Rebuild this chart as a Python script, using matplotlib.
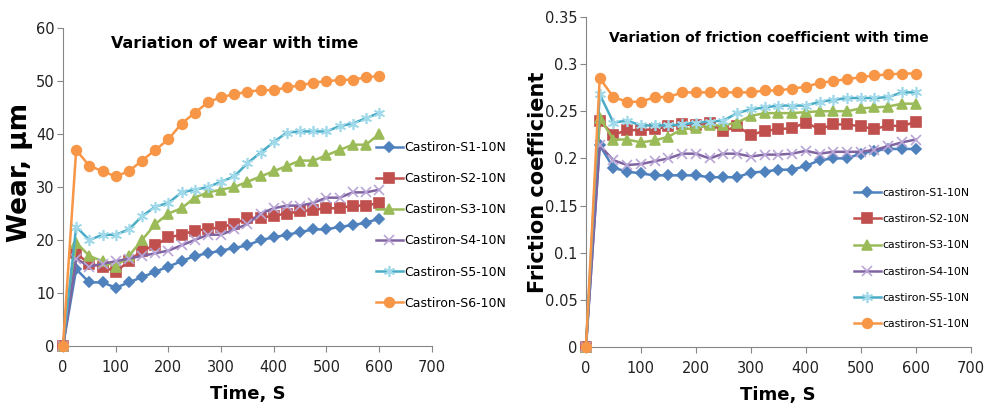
import matplotlib
matplotlib.use("Agg")
import matplotlib.pyplot as plt

# time axis, s
time = [0, 25, 50, 75, 100, 125, 150, 175, 200, 225, 250, 275, 300,
        325, 350, 375, 400, 425, 450, 475, 500, 525, 550, 575, 600]

# wear, um
wear_s1 = [0, 14.5, 12, 12, 11, 12, 13, 14, 15, 16, 17, 17.5, 18,
           18.5, 19, 20, 20.5, 21, 21.5, 22, 22, 22.5, 22.8, 23.3, 24]
wear_s2 = [0, 17.5, 15.5, 15, 14, 16, 18, 19, 20.5, 21, 21.8, 22, 22.5,
           23, 24.2, 24.2, 24.6, 25, 25.4, 25.7, 26, 26, 26.5, 26.5, 27]
wear_s3 = [0, 19.5, 17, 16, 15, 17, 20, 23, 25, 26, 28, 29, 29.5,
           30, 31, 32, 33, 34, 35, 35, 36, 37, 38, 38, 40]
wear_s4 = [0, 16.5, 15, 15.5, 16, 16.5, 17, 17.5, 18, 19, 20, 21, 21,
           22, 23, 25, 26, 26.5, 26.5, 27, 28, 28, 29, 29, 29.5]
wear_s5 = [0, 22.5, 20, 21, 21, 22, 24.5, 26.3, 27, 29, 29.5, 30, 31,
           32, 34.5, 36.5, 38.5, 40.3, 40.5, 40.5, 40.5, 41.5, 42, 43, 44]
wear_s6 = [0, 37, 34, 33, 32, 33, 35, 37, 39, 42, 44, 46, 47,
           47.5, 48, 48.3, 48.3, 48.8, 49.2, 49.7, 50, 50.2, 50.3, 50.7, 51]

# friction coefficient
fr_s1 = [0, 0.214, 0.19, 0.186, 0.184, 0.182, 0.182, 0.182, 0.182, 0.18, 0.18, 0.18, 0.185,
         0.186, 0.188, 0.188, 0.192, 0.198, 0.2, 0.2, 0.205, 0.208, 0.21, 0.21, 0.21]
fr_s2 = [0, 0.24, 0.225, 0.23, 0.23, 0.231, 0.234, 0.236, 0.235, 0.237, 0.229, 0.234, 0.225,
         0.229, 0.231, 0.232, 0.238, 0.231, 0.236, 0.236, 0.234, 0.231, 0.235, 0.234, 0.239]
fr_s3 = [0, 0.243, 0.22, 0.22, 0.217, 0.219, 0.223, 0.231, 0.232, 0.235, 0.235, 0.238, 0.245,
         0.248, 0.248, 0.248, 0.249, 0.25, 0.25, 0.25, 0.253, 0.254, 0.255, 0.258, 0.258]
fr_s4 = [0, 0.214, 0.198, 0.193, 0.194, 0.197, 0.2, 0.205, 0.205, 0.2, 0.205, 0.205, 0.202,
         0.204, 0.204, 0.205, 0.208, 0.205, 0.207, 0.207, 0.207, 0.209, 0.213, 0.217, 0.22]
fr_s5 = [0, 0.268, 0.238, 0.24, 0.235, 0.235, 0.235, 0.236, 0.238, 0.239, 0.24, 0.248, 0.252,
         0.254, 0.256, 0.256, 0.256, 0.26, 0.262, 0.264, 0.264, 0.264, 0.265, 0.27, 0.27]
fr_s6 = [0, 0.285, 0.265, 0.26, 0.26, 0.265, 0.265, 0.27, 0.27, 0.27, 0.27, 0.27, 0.27,
         0.272, 0.272, 0.274, 0.276, 0.28, 0.282, 0.284, 0.286, 0.288, 0.289, 0.29, 0.29]

wear_labels = ['Castiron-S1-10N', 'Castiron-S2-10N', 'Castiron-S3-10N',
               'Castiron-S4-10N', 'Castiron-S5-10N', 'Castiron-S6-10N']
fr_labels = ['castiron-S1-10N', 'castiron-S2-10N', 'castiron-S3-10N',
             'castiron-S4-10N', 'castiron-S5-10N', 'castiron-S1-10N']

# Excel 2010 palette
colors = ['#4F81BD', '#C0504D', '#9BBB59', '#8064A2', '#4BACC6', '#F79646']
mcolors = ['#4F81BD', '#C0504D', '#9BBB59', '#B9A5D6', '#9FD9EA', '#F79646']
markers = ['D', 's', '^', 'x', (6, 2, 0), 'o']
msizes = [5, 7, 7, 7, 8, 7]

plt.rcParams['font.family'] = ['DejaVu Sans']

fig = plt.figure(figsize=(9.94, 4.08), dpi=100)
ax1 = fig.add_axes([0.0634, 0.152, 0.371, 0.779])
ax2 = fig.add_axes([0.5895, 0.1495, 0.387, 0.809])


def draw(ax, series, labels):
    hs = []
    for y, lab, c, mc, m, ms in zip(series, labels, colors, mcolors, markers, msizes):
        h, = ax.plot(time, y, color=c, lw=1.8, marker=m, ms=ms, mfc=mc,
                     mec=mc, mew=1.2, label=lab, clip_on=False, zorder=3)
        hs.append(h)
    for s in ['top', 'right']:
        ax.spines[s].set_visible(False)
    for s in ['left', 'bottom']:
        ax.spines[s].set_color('#868686')
    ax.tick_params(direction='out', length=4, color='#868686', labelsize=10.5,
                   labelcolor='#222222')
    ax.tick_params(axis='y', pad=2)
    ax.tick_params(axis='x', pad=6)
    ax.set_xlim(0, 700)
    ax.set_xticks(range(0, 701, 100))
    return hs


h1 = draw(ax1, [wear_s1, wear_s2, wear_s3, wear_s4, wear_s5, wear_s6], wear_labels)
ax1.set_ylim(0, 60)
ax1.set_yticks(range(0, 61, 10))
ax1.set_title('Variation of wear with time', fontsize=11.5, fontweight='bold',
              x=0.466, y=0.91)
ax1.set_ylabel('Wear, \u03bcm', fontsize=19, fontweight='bold', labelpad=2)
ax1.yaxis.label.set_y(0.547)
ax1.set_xlabel('Time, S', fontsize=13, fontweight='bold', labelpad=7)
fig.legend(h1, wear_labels, loc='upper left',
           bbox_to_anchor=(0.378, 1 - 141 / 408), frameon=False, fontsize=9,
           handlelength=2.2, labelspacing=1.45, handletextpad=0.1,
           borderaxespad=0, borderpad=0)

h2 = draw(ax2, [fr_s1, fr_s2, fr_s3, fr_s4, fr_s5, fr_s6], fr_labels)
ax2.set_ylim(0, 0.35)
ax2.set_yticks([0, 0.05, 0.1, 0.15, 0.2, 0.25, 0.3, 0.35])
ax2.set_yticklabels(['0', '0.05', '0.1', '0.15', '0.2', '0.25', '0.3', '0.35'])
ax2.set_title('Variation of friction coefficient with time', fontsize=10,
              fontweight='bold', x=0.475, y=0.9)
ax2.set_ylabel('Friction coefficient', fontsize=15, fontweight='bold',
               labelpad=-2)
ax2.set_xlabel('Time, S', fontsize=13, fontweight='bold', labelpad=7)
fig.legend(h2, fr_labels, loc='upper left',
           bbox_to_anchor=(0.859, 1 - 188 / 408), frameon=False, fontsize=7.8,
           handlelength=2.5, labelspacing=1.5, handletextpad=0.1,
           borderaxespad=0, borderpad=0)

fig.savefig('out.png', dpi=100)
